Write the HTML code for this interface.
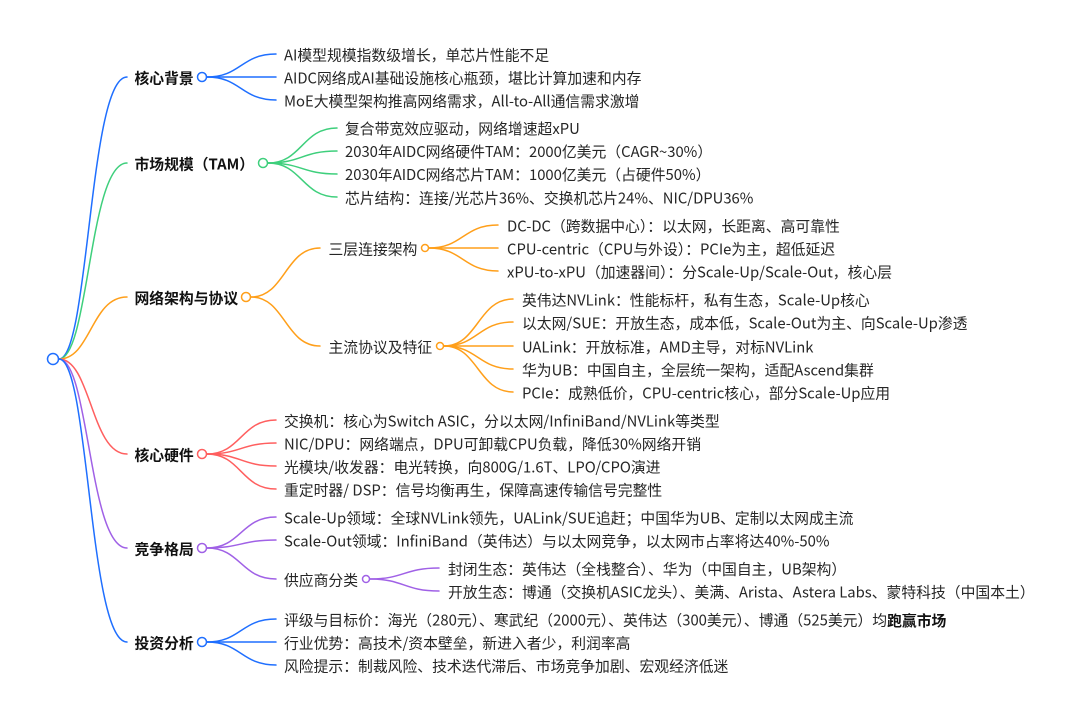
<!DOCTYPE html>
<html><head><meta charset="utf-8"><style>
html,body{margin:0;padding:0;background:#fff;width:1080px;height:719px;overflow:hidden}
svg{display:block}
text{font-family:"Noto Sans CJK SC","Liberation Sans",sans-serif;font-size:14.82px;fill:#262626;dominant-baseline:central}
text.b{font-weight:700;fill:#111}
path{fill:none;stroke-width:1.5;stroke-linecap:round}
circle{fill:#fff;stroke-width:1.5}
.bl{stroke:#1f6fff}.gr{stroke:#3ecf7c}.or{stroke:#ff9f1a}.re{stroke:#ff5f5f}.pu{stroke:#a061e6}
</style></head><body>
<svg width="1080" height="719" viewBox="0 0 1080 719">
<!-- root branches -->
<path class="bl" d="M59 359C89 359 89 77 127 77"/>
<path class="gr" d="M59 359C89 359 89 163 127 163"/>
<path class="or" d="M59 359C91 359 91 297 127 297"/>
<path class="re" d="M59 359C91 359 91 454 127 454"/>
<path class="pu" d="M59 359C89 359 89 548 127 548"/>
<path class="bl" d="M59 359C89 359 89 642 127 642"/>
<!-- 1 -->
<path class="bl" d="M207 77C241 77 241 54 276 54"/><path class="bl" d="M207 77H276"/><path class="bl" d="M207 77C241 77 241 100 276 100"/>
<!-- 2 -->
<path class="gr" d="M268 163C302 163 302 128 337 128"/><path class="gr" d="M268 163C302 163 302 151 337 151"/><path class="gr" d="M268 163C302 163 302 174 337 174"/><path class="gr" d="M268 163C302 163 302 197 337 197"/>
<!-- 3 -->
<path class="or" d="M251 297C285 297 285 248 320 248"/><path class="or" d="M251 297C285 297 285 346 320 346"/>
<path class="or" d="M429 248C463 248 463 225 498 225"/><path class="or" d="M429 248H498"/><path class="or" d="M429 248C463 248 463 271 498 271"/>
<path class="or" d="M444 346C478 346 478 299 513 299"/><path class="or" d="M444 346C478 346 478 322 513 322"/><path class="or" d="M444 346H513"/><path class="or" d="M444 346C478 346 478 369 513 369"/><path class="or" d="M444 346C478 346 478 392 513 392"/>
<!-- 4 -->
<path class="re" d="M207 454C241 454 241 420 276 420"/><path class="re" d="M207 454C241 454 241 443 276 443"/><path class="re" d="M207 454C241 454 241 466 276 466"/><path class="re" d="M207 454C241 454 241 489 276 489"/>
<!-- 5 -->
<path class="pu" d="M207 548C241 548 241 517 276 517"/><path class="pu" d="M207 548C241 548 241 540 276 540"/><path class="pu" d="M207 548C241 548 241 579 276 579"/>
<path class="pu" d="M370 579C404 579 404 568 439 568"/><path class="pu" d="M370 579C404 579 404 591 439 591"/>
<!-- 6 -->
<path class="bl" d="M207 642C241 642 241 619 276 619"/><path class="bl" d="M207 642H276"/><path class="bl" d="M207 642C241 642 241 665 276 665"/>
<!-- nodes -->
<circle class="bl" cx="53" cy="359" r="5.5"/>
<circle class="bl" cx="202" cy="77" r="4.5"/>
<circle class="gr" cx="263" cy="163" r="4.5"/>
<circle class="or" cx="246" cy="297" r="4.5"/>
<circle class="or" cx="425" cy="248" r="3.5"/>
<circle class="or" cx="440" cy="346" r="3.5"/>
<circle class="re" cx="202" cy="454" r="4.5"/>
<circle class="pu" cx="202" cy="548" r="4.5"/>
<circle class="pu" cx="366" cy="579" r="3.5"/>
<circle class="bl" cx="202" cy="642" r="4.5"/>
<!-- labels -->
<text class="b" x="134.5" y="78">核心背景</text>
<text class="b" x="134.5" y="164">市场规模（TAM）</text>
<text class="b" x="134.5" y="298">网络架构与协议</text>
<text class="b" x="134.5" y="455">核心硬件</text>
<text class="b" x="134.5" y="549">竞争格局</text>
<text class="b" x="134.5" y="643">投资分析</text>
<text x="284" y="55">AI模型规模指数级增长，单芯片性能不足</text>
<text x="284" y="78">AIDC网络成AI基础设施核心瓶颈，堪比计算加速和内存</text>
<text x="284" y="101">MoE大模型架构推高网络需求，All-to-All通信需求激增</text>
<text x="345" y="128.5">复合带宽效应驱动，网络增速超xPU</text>
<text x="345" y="151.5">2030年AIDC网络硬件TAM：2000亿美元（CAGR~30%）</text>
<text x="345" y="174.5">2030年AIDC网络芯片TAM：1000亿美元（占硬件50%）</text>
<text x="345" y="198">芯片结构：连接/光芯片36%、交换机芯片24%、NIC/DPU36%</text>
<text x="328.5" y="249">三层连接架构</text>
<text x="328.5" y="347">主流协议及特征</text>
<text x="507" y="226">DC-DC（跨数据中心）：以太网，长距离、高可靠性</text>
<text x="507" y="249">CPU-centric（CPU与外设）：PCIe为主，超低延迟</text>
<text x="507" y="272">xPU-to-xPU（加速器间）：分Scale-Up/Scale-Out，核心层</text>
<text x="522" y="300">英伟达NVLink：性能标杆，私有生态，Scale-Up核心</text>
<text x="522" y="323">以太网/SUE：开放生态，成本低，Scale-Out为主、向Scale-Up渗透</text>
<text x="522" y="347">UALink：开放标准，AMD主导，对标NVLink</text>
<text x="522" y="370">华为UB：中国自主，全层统一架构，适配Ascend集群</text>
<text x="522" y="393">PCIe：成熟低价，CPU-centric核心，部分Scale-Up应用</text>
<text x="284" y="421">交换机：核心为Switch ASIC，分以太网/InfiniBand/NVLink等类型</text>
<text x="284" y="444">NIC/DPU：网络端点，DPU可卸载CPU负载，降低30%网络开销</text>
<text x="284" y="467">光模块/收发器：电光转换，向800G/1.6T、LPO/CPO演进</text>
<text x="284" y="490">重定时器/ DSP：信号均衡再生，保障高速传输信号完整性</text>
<text x="284" y="518">Scale-Up领域：全球NVLink领先，UALink/SUE追赶；中国华为UB、定制以太网成主流</text>
<text x="284" y="541">Scale-Out领域：InfiniBand（英伟达）与以太网竞争，以太网市占率将达40%-50%</text>
<text x="284" y="580">供应商分类</text>
<text x="448" y="569">封闭生态：英伟达（全栈整合）、华为（中国自主，UB架构）</text>
<text x="448" y="592">开放生态：博通（交换机ASIC龙头）、美满、Arista、Astera Labs、蒙特科技（中国本土）</text>
<text x="284" y="620">评级与目标价：海光（280元）、寒武纪（2000元）、英伟达（300美元）、博通（525美元）均<tspan font-weight="700" fill="#111">跑赢市场</tspan></text>
<text x="284" y="643">行业优势：高技术/资本壁垒，新进入者少，利润率高</text>
<text x="284" y="666">风险提示：制裁风险、技术迭代滞后、市场竞争加剧、宏观经济低迷</text>
</svg>
</body></html>
